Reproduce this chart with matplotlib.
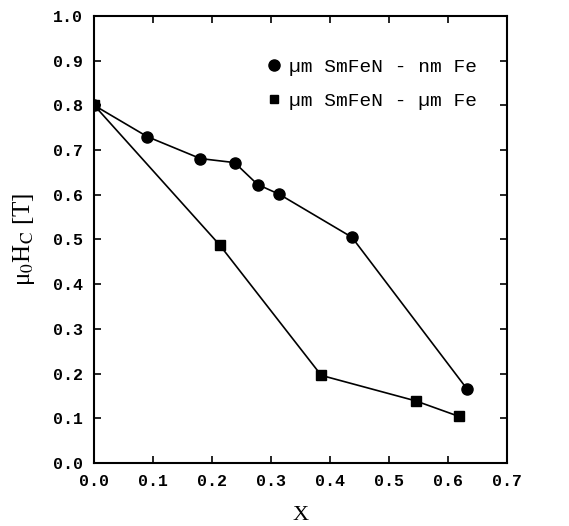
import matplotlib
matplotlib.use("Agg")
import matplotlib.pyplot as plt
from matplotlib.lines import Line2D

nm_x = [0.0, 0.09, 0.18, 0.238, 0.277, 0.314, 0.437, 0.632]
nm_y = [0.80, 0.73, 0.681, 0.672, 0.623, 0.601, 0.505, 0.166]
um_x = [0.0, 0.2125, 0.385, 0.545, 0.619]
um_y = [0.80, 0.488, 0.196, 0.139, 0.104]
labels = ['µm SmFeN - nm Fe', 'µm SmFeN - µm Fe']
xticks = [0.0, 0.1, 0.2, 0.3, 0.4, 0.5, 0.6, 0.7]
yticks = [0.0, 0.1, 0.2, 0.3, 0.4, 0.5, 0.6, 0.7, 0.8, 0.9, 1.0]

plt.rcParams['font.family'] = ['Liberation Mono', 'DejaVu Sans']
plt.rcParams['mathtext.fontset'] = 'stix'
fig = plt.figure(figsize=(5.69, 5.26), dpi=100)
ax = fig.add_axes([0.1657, 0.1198, 0.891 - 0.1657, 0.9696 - 0.1198])

ax.plot(nm_x, nm_y, color='black', lw=1.2, marker='o', ms=8)
ax.plot(um_x, um_y, color='black', lw=1.2, marker='s', ms=7)

ax.set_xlim(0, 0.7)
ax.set_ylim(0, 1.0)
ax.set_xticks(xticks)
ax.set_yticks(yticks)
ax.set_xticklabels([f"{v:.1f}" for v in xticks])
ax.set_yticklabels([f"{v:.1f}" for v in yticks])
ax.tick_params(direction='in', top=True, right=True, length=5, width=1.2, labelsize=12, pad=8)
for lab in ax.get_xticklabels() + ax.get_yticklabels():
    lab.set_fontweight('bold')
for s in ax.spines.values():
    s.set_linewidth(1.5)

ax.set_xlabel('X', fontsize=16, family='Liberation Serif', labelpad=12)
ax.set_ylabel('μ$_0$H$_\\mathrm{C}$ [T]', fontsize=18, family='Liberation Serif', labelpad=12)

handles = [Line2D([], [], color='black', ls='none', marker='o', ms=8),
           Line2D([], [], color='black', ls='none', marker='s', ms=6)]
leg = ax.legend(handles, labels, loc='upper right', bbox_to_anchor=(0.97, 0.945), frameon=False,
                fontsize=14, handlelength=0.6, handletextpad=0.5, labelspacing=0.85)

fig.savefig('out.png', dpi=100)
